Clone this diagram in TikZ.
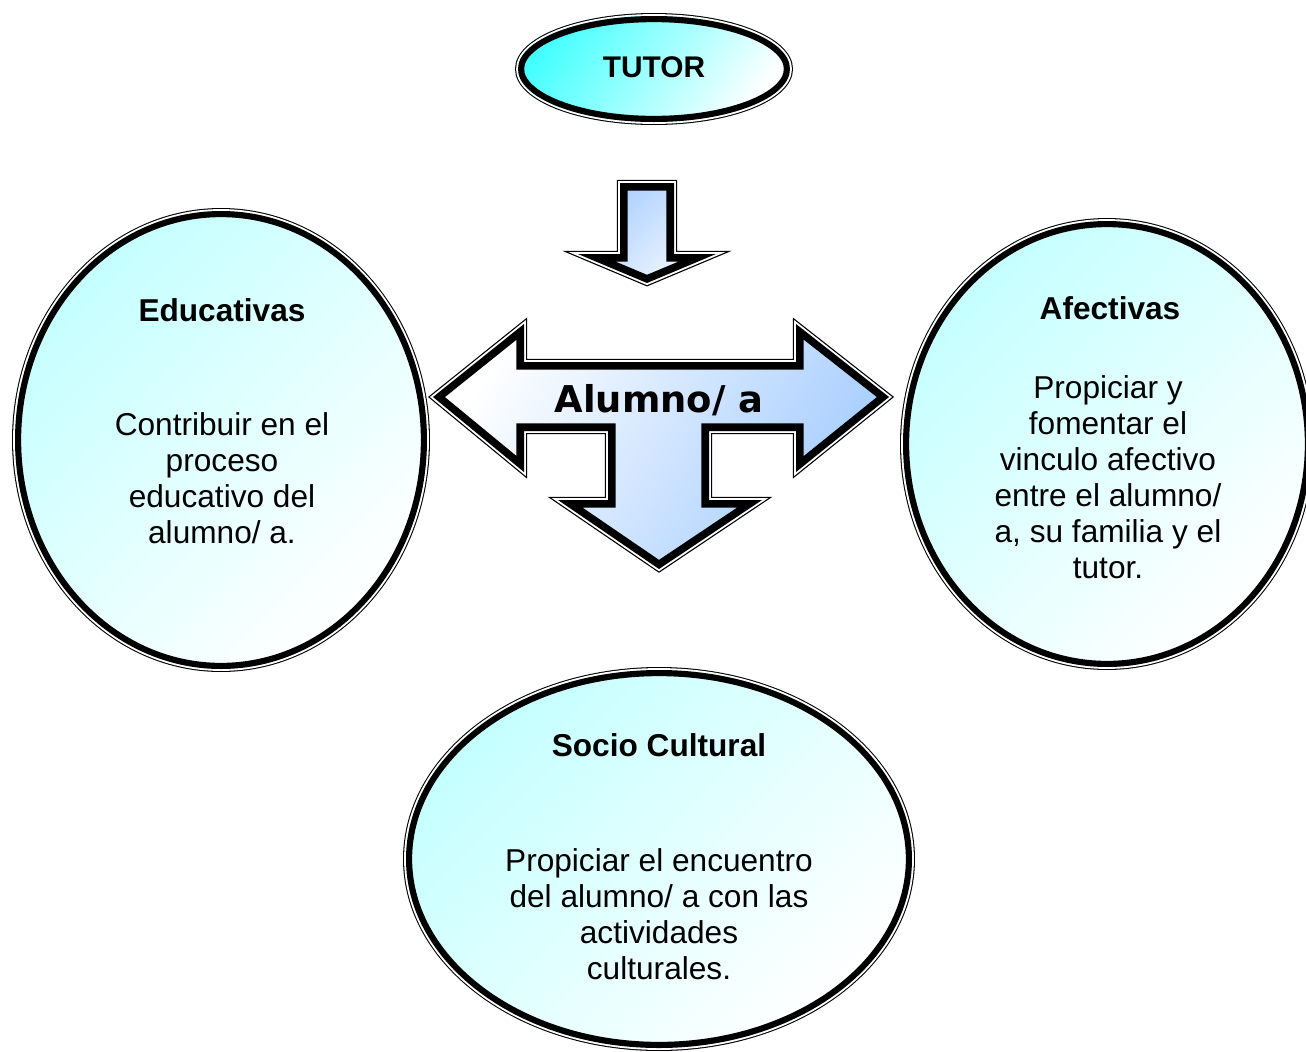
\documentclass[tikz,border=0pt]{standalone}
\usepackage{fontspec}
\setmainfont{Liberation Sans}
\newfontfamily\alumnofont{DejaVu Sans}
\usetikzlibrary{calc}
\definecolor{tutorcyan}{HTML}{45FFFF}
\definecolor{palecyan}{HTML}{C4FFFF}
\definecolor{paleblue}{HTML}{A4CCFF}
\tikzset{%
	ell outer/.style={line width=3.4pt},
	ell gap/.style={white, line width=2.2pt},
	ell inner/.style={line width=7pt},
	arr outer/.style={line width=3.6pt, line join=miter, miter limit=25},
	arr gap/.style={white, line width=2.2pt, line join=miter, miter limit=25},
	arr inner/.style={line width=8.6pt, line join=miter, miter limit=25},
	headtext/.style={font=\bfseries\fontsize{18}{20.5}\selectfont, inner sep=0pt},
	bodytext/.style={font=\fontsize{18}{20.5}\selectfont, align=center, inner sep=0pt},
	tutortext/.style={font=\bfseries\fontsize{17}{20}\selectfont, inner sep=0pt},
	arrowtext/.style={font=\alumnofont\bfseries\fontsize{21}{24}\selectfont, inner sep=0pt}
}
\newcommand\dblframe[3]{% style prefix, shading, path
	\draw[#1 outer] #3;
	\draw[#1 gap] #3;
	\shade[#2] #3;
	\begin{scope}
		\clip #3;
		\draw[#1 inner] #3;
	\end{scope}
}

\begin{document}
\begin{tikzpicture}[x=0.02cm, y=-0.02cm]
	\path[use as bounding box, clip] (0,0) rectangle (1306,1052);

	\coordinate (cTutor) at (654,69);
	\coordinate (cEduc) at (221,440);
	\coordinate (cAfec) at (1107,444);
	\coordinate (cSocio) at (659,859);

	\dblframe{ell}{top color=tutorcyan, bottom color=white, shading angle=55}{(cTutor) ellipse [x radius=136, y radius=53]}
	\dblframe{ell}{top color=palecyan, bottom color=white, shading angle=45}{(cEduc) ellipse [x radius=206, y radius=229]}
	\dblframe{ell}{top color=palecyan, bottom color=white, shading angle=45}{(cAfec) ellipse [x radius=204, y radius=223]}
	\dblframe{ell}{top color=palecyan, bottom color=white, shading angle=45}{(cSocio) ellipse [x radius=253, y radius=189]}

	\dblframe{arr}{top color=paleblue, bottom color=paleblue!12, shading angle=45}%
		{(620,183) -- (674,183) -- (674,254) -- (716,254) -- (647,283) -- (578,254) -- (620,254) -- cycle}
	\dblframe{arr}{top color=white, bottom color=paleblue, shading angle=60}%
		{(433,397) -- (524,324) -- (524,362) -- (796,362) -- (796,324) -- (889,397) -- (796,472) -- (796,431)
		 -- (709,431) -- (709,500) -- (762,500) -- (659,569) -- (558,500) -- (608,500) -- (608,431)
		 -- (524,431) -- (524,472) -- cycle}

	\node[tutortext] (tutor) at (654,67) {TUTOR};
	\node[arrowtext] (alumno) at (659,400) {Alumno/ a};

	\node[headtext] (educ) at (222,310) {Educativas};
	\node[bodytext] (educbody) at (222,478) {Contribuir en el\\proceso\\educativo del\\alumno/ a.};

	\node[headtext] (afec) at (1110,308) {Afectivas};
	\node[bodytext] (afecbody) at (1108,477) {Propiciar y\\fomentar el\\vinculo afectivo\\entre el alumno/\\a, su familia y el\\tutor.};

	\node[headtext] (socio) at (659,745) {Socio Cultural};
	\node[bodytext] (sociobody) at (659,914) {Propiciar el encuentro\\del alumno/ a con las\\actividades\\culturales.};
\end{tikzpicture}
\end{document}
